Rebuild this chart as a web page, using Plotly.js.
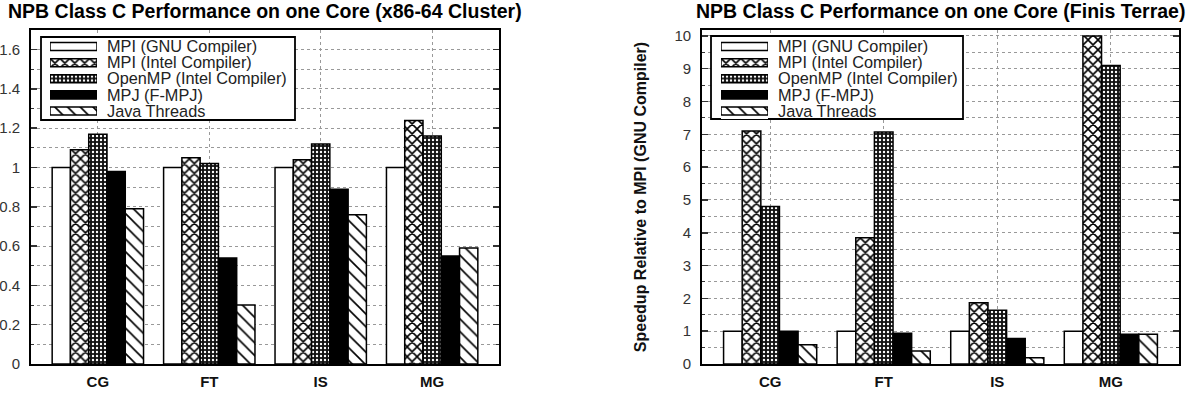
<!DOCTYPE html>
<html>
<head>
<meta charset="utf-8">
<script src="https://cdn.plot.ly/plotly-3.0.1.min.js"></script>
<style>html,body{margin:0;padding:0;background:#fff;}#chart{width:1187px;height:408px;}</style>
</head>
<body>
<div id="chart"></div>
<script>
// ---- data ----
const categories = ['CG', 'FT', 'IS', 'MG'];
const seriesNames = ['MPI (GNU Compiler)', 'MPI (Intel Compiler)', 'OpenMP (Intel Compiler)', 'MPJ (F-MPJ)', 'Java Threads'];

// left chart: x86-64 cluster
const clusterGNU    = [1.00, 1.00, 1.00, 1.00];
const clusterIntel  = [1.09, 1.05, 1.04, 1.24];
const clusterOpenMP = [1.17, 1.02, 1.12, 1.16];
const clusterMPJ    = [0.98, 0.54, 0.89, 0.55];
const clusterJava   = [0.79, 0.30, 0.76, 0.59];

// right chart: Finis Terrae
const finisGNU    = [1.00, 1.00, 1.00, 1.00];
const finisIntel  = [7.10, 3.85, 1.87, 10.00];
const finisOpenMP = [4.80, 7.07, 1.64, 9.10];
const finisMPJ    = [1.00, 0.94, 0.78, 0.91];
const finisJava   = [0.59, 0.40, 0.19, 0.91];

const leftTitle = 'NPB Class C Performance on one Core (x86-64 Cluster)';
const rightTitle = 'NPB Class C Performance on one Core (Finis Terrae)';
const rightYTitle = 'Speedup Relative to MPI (GNU Compiler)';

// ---- styles ----
const W = 1187, H = 408;
const px = x => x / W;
const py = y => 1 - y / H;
const FONT = 'Liberation Sans, Arial, sans-serif';
const PLOT_TOP = 30, PLOT_BOT = 364;

const styles = [
  {color: '#ffffff', shape: ''},
  {color: '#ffffff', shape: 'x',  bg: '#ffffff', fg: '#000000', size: 7, sol: 0.4},
  {color: '#000000', shape: '.',  bg: '#111111', fg: '#ffffff', size: 4, sol: 0.27},
  {color: '#000000', shape: ''},
  {color: '#ffffff', shape: '\\', bg: '#ffffff', fg: '#000000', size: 9, sol: 0.18}
];
function markerFor(s) {
  const m = {color: s.color, line: {color: '#000', width: 1.5}};
  if (s.shape) m.pattern = {shape: s.shape, bgcolor: s.bg, fgcolor: s.fg, size: s.size, solidity: s.sol, fillmode: 'replace'};
  return m;
}

const leftSeries = [clusterGNU, clusterIntel, clusterOpenMP, clusterMPJ, clusterJava];
const rightSeries = [finisGNU, finisIntel, finisOpenMP, finisMPJ, finisJava];

const traces = [];
leftSeries.forEach((vals, i) => traces.push({
  type: 'bar', x: categories, y: vals, name: seriesNames[i], xaxis: 'x', yaxis: 'y',
  marker: markerFor(styles[i]), showlegend: false
}));
rightSeries.forEach((vals, i) => traces.push({
  type: 'bar', x: categories, y: vals, name: seriesNames[i], xaxis: 'x2', yaxis: 'y2',
  marker: markerFor(styles[i]), showlegend: false
}));

// legend samples drawn as short horizontal bars (one per series)
[['x3', 'y3'], ['x4', 'y4']].forEach(([xa, ya]) => {
  seriesNames.forEach((nm, i) => traces.push({
    type: 'bar', orientation: 'h', y: [nm], x: [1], xaxis: xa, yaxis: ya,
    width: 0.5, offsetgroup: 'leg', showlegend: false, hoverinfo: 'skip',
    marker: markerFor(styles[i])
  }));
});

const gridCol = '#999999';
function xAxis(domain, anchor) {
  return {
    domain: domain, anchor: anchor, type: 'category', range: [-0.6, 3.6],
    showgrid: true, gridcolor: gridCol, griddash: 'dot', gridwidth: 1,
    showline: true, linecolor: '#000', linewidth: 1.8, mirror: true,
    ticks: '', tickfont: {family: FONT, size: 15, color: '#111', weight: 'bold'},
    ticklabelstandoff: 3, zeroline: false, fixedrange: true
  };
}
function yAxis(domain, anchor, range, dtick, mdtick) {
  return {
    domain: domain, anchor: anchor, range: range, tick0: 0, dtick: dtick,
    showgrid: true, gridcolor: gridCol, griddash: 'dot', gridwidth: 1,
    showline: true, linecolor: '#000', linewidth: 1.8, mirror: 'allticks',
    ticks: 'inside', ticklen: 6, tickwidth: 1.5, tickcolor: '#333',
    tickfont: {family: FONT, size: 15, color: '#333'},
    ticklabelstandoff: 6, zeroline: false, fixedrange: true,
    minor: {dtick: mdtick, tick0: 0, ticks: 'inside', ticklen: 3, tickwidth: 1, tickcolor: '#333',
            showgrid: true, gridcolor: gridCol, griddash: 'dot', gridwidth: 1}
  };
}
const yDom = [py(PLOT_BOT), py(PLOT_TOP)];
function legX(domain, anchor) {
  return {domain: domain, anchor: anchor, range: [0, 1], showgrid: false, showline: false,
          zeroline: false, showticklabels: false, ticks: '', fixedrange: true};
}
function legY(domain, anchor) {
  return {domain: domain, anchor: anchor, type: 'category', categoryarray: seriesNames,
          categoryorder: 'array', range: [4.5, -0.5], side: 'right', showgrid: false,
          tickmode: 'linear', tick0: 0, dtick: 1,
          showline: false, zeroline: false, ticks: '', ticklabelstandoff: 9,
          tickfont: {family: FONT, size: 16.3, color: '#222'}, fixedrange: true};
}

// legend frame in data coordinates of the host subplot (converted from pixel box)
function legendBox(xa, ya, box, plotL, plotR, xr, yr) {
  const toX = p => xr[0] + (p - plotL) / (plotR - plotL) * (xr[1] - xr[0]);
  const toY = p => yr[0] + (PLOT_BOT - p) / (PLOT_BOT - PLOT_TOP) * (yr[1] - yr[0]);
  return {
    type: 'rect', xref: xa, yref: ya, layer: 'between',
    x0: toX(box[0]), x1: toX(box[1]), y0: toY(box[3]), y1: toY(box[2]),
    fillcolor: '#fff', line: {color: '#000', width: 1.8}
  };
}

const layout = {
  width: W, height: H,
  margin: {l: 0, r: 0, t: 0, b: 0},
  paper_bgcolor: '#fff', plot_bgcolor: '#fff',
  font: {family: FONT, color: '#222'},
  barmode: 'group', bargap: 0.18, bargroupgap: 0,
  showlegend: false,
  xaxis: xAxis([px(31), px(499)], 'y'),
  yaxis: yAxis(yDom, 'x', [0, 1.7], 0.2, 0.1),
  xaxis2: xAxis([px(702), px(1179)], 'y2'),
  yaxis2: Object.assign(yAxis(yDom, 'x2', [0, 10.18], 1, 0.5), {
    title: {text: rightYTitle, font: {family: FONT, size: 16, color: '#111', weight: 'bold'}, standoff: 24}
  }),
  xaxis3: legX([px(50), px(97)], 'y3'),
  yaxis3: legY([py(119), py(38.5)], 'x3'),
  xaxis4: legX([px(721), px(768)], 'y4'),
  yaxis4: legY([py(119), py(38.5)], 'x4'),
  shapes: [
    legendBox('x', 'y', [41, 295, 37, 120], 31, 499, [-0.6, 3.6], [0, 1.7]),
    legendBox('x2', 'y2', [711, 963, 36, 119], 702, 1179, [-0.6, 3.6], [0, 10.18])
  ],
  annotations: [
    {text: leftTitle, xref: 'paper', yref: 'paper', x: px(265), y: py(11), xanchor: 'center', yanchor: 'middle',
     showarrow: false, font: {family: FONT, size: 19.5, color: '#000', weight: 'bold'}},
    {text: rightTitle, xref: 'paper', yref: 'paper', x: px(940), y: py(11), xanchor: 'center', yanchor: 'middle',
     showarrow: false, font: {family: FONT, size: 19.5, color: '#000', weight: 'bold'}}
  ]
};

Plotly.newPlot('chart', traces, layout, {staticPlot: true, displayModeBar: false});
</script>
</body>
</html>
